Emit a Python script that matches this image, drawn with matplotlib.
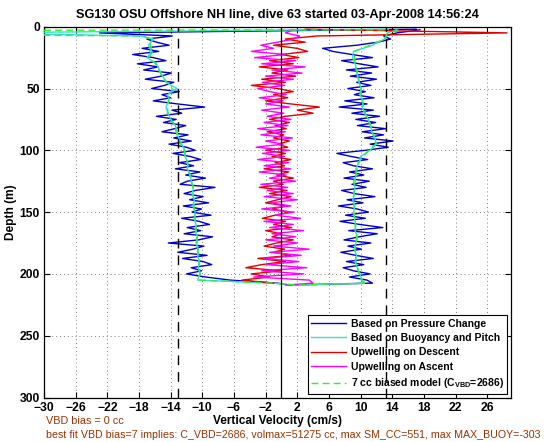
import matplotlib
matplotlib.use('Agg')
import matplotlib.pyplot as plt

# ---------------- data ----------------
# descent sampling depths (m)
desc_depth = [2, 5, 7.5, 10, 12.5, 15, 17.5, 20, 22.5, 25, 27.5, 30,
              32.5, 35, 37.5, 40, 42.5, 45, 47.5, 50, 52.5, 55, 57.5, 60,
              62.5, 65, 67.5, 70, 72.5, 75, 77.5, 80, 82.5, 85, 87.5, 90,
              92.5, 95, 97.5, 100, 102.5, 105, 107.5, 110, 112.5, 115, 117.5, 120,
              122.5, 125, 127.5, 130, 132.5, 135, 137.5, 140, 142.5, 145, 147.5, 150,
              152.5, 155, 157.5, 160, 162.5, 165, 167.5, 170, 172.5, 175, 177.5, 180,
              182.5, 185, 187.5, 190, 192.5, 195, 197.5, 200, 202.5, 205, 207.5]
# ascent sampling depths (m)
asc_depth = [209, 207.5, 205, 202.5, 200, 197.5, 195, 192.5, 190, 187.5, 185, 182.5,
             180, 177.5, 175, 172.5, 170, 167.5, 165, 162.5, 160, 157.5, 155, 152.5,
             150, 147.5, 145, 142.5, 140, 137.5, 135, 132.5, 130, 127.5, 125, 122.5,
             120, 117.5, 115, 112.5, 110, 107.5, 105, 102.5, 100, 97.5, 95, 92.5,
             90, 87.5, 85, 82.5, 80, 77.5, 75, 72.5, 70, 67.5, 65, 62.5,
             60, 57.5, 55, 52.5, 50, 47.5, 45, 42.5, 40, 37.5, 35, 32.5,
             30, 27.5, 25, 22.5, 20, 17.5, 15, 12.5, 10, 7.5, 5, 2.5]

# Based on Pressure Change (cm/s)
pressure_desc = [17, -23, -13.8, -17.0, -15.8, -14.2, -17.6, -15.5, -18.8, -16.2, -14.6, -18.2,
                 -15.6, -17.4, -13.9, -15.2, -17.2, -13.6, -14.8, -16.4, -12.9, -15.1, -14.0, -16.2,
                 -13.1, -9.7, -13.8, -12.6, -15.8, -13.3, -14.9, -12.1, -13.5, -15.1, -11.8, -13.6,
                 -11.4, -14.2, -12.0, -10.9, -13.7, -11.5, -10.2, -12.9, -11.1, -13.4, -10.3, -12.1,
                 -9.6, -11.9, -12.8, -8.4, -10.9, -12.3, -9.9, -11.6, -9.2, -12.4, -10.1, -11.3,
                 -8.9, -12.6, -10.4, -9.1, -11.9, -10.2, -12.3, -8.7, -10.5, -14.3, -9.8, -11.2,
                 -13.1, -9.4, -12.5, -9.9, -8.8, -11.4, -10.1, -12.0, -9.6, -6.5, -0.5]
pressure_asc = [1, 11.5, 10.8, 8.6, 11.2, 9.1, 7.8, 10.4, 8.2, 11.6, 9.4, 7.5,
                10.1, 8.4, 11.3, 7.9, 9.8, 12.1, 8.5, 12.8, 9.9, 7.4, 10.6, 8.1,
                11.0, 9.6, 7.2, 10.3, 8.3, 11.8, 9.2, 7.6, 10.7, 8.9, 11.1, 7.9,
                10.4, 8.6, 11.5, 9.1, 7.8, 10.9, 8.8, 7.0, 10.6, 13.5, 11.2, 14.1,
                10.5, 12.9, 10.2, 13.2, 9.6, 11.9, 9.4, 12.4, 8.9, 11.6, 7.3, 10.8,
                8.0, 11.7, 9.2, 10.6, 8.4, 11.3, 9.5, 12.0, 8.7, 11.4, 8.2, 12.2,
                9.8, 7.6, 11.5, 8.9, 6.5, 5.2, 9.5, 12.2, 13.8, 12.9, 14.6, 17.5]

# Based on Buoyancy and Pitch (cm/s)
buoy_desc_depth = [2, 5, 7.5, 10, 15, 20, 25, 30, 35, 40, 45, 50, 55, 60, 65, 70, 75, 80,
                   85, 90, 95, 100, 105, 110, 115, 120, 125, 130, 135, 140, 145, 150,
                   155, 160, 165, 170, 175, 180, 185, 190, 195, 200, 205, 207.5]
buoy_desc = [13.5, -40, -17.8, -16.2, -16.8, -16.4, -17.0, -15.8, -15.4, -15.0, -14.6, -13.2,
             -14.4, -14.2, -14.6, -14.3, -14.0, -13.4, -13.2, -13.0, -12.6, -12.2, -12.2, -11.8,
             -11.9, -11.5, -11.4, -11.1, -11.3, -11.0, -11.2, -10.9, -11.0, -10.8, -10.9, -10.6,
             -10.8, -10.5, -10.6, -10.4, -10.5, -10.3, -10.6, -1.0]
buoy_asc_depth = [209, 207.5, 205, 200, 195, 190, 185, 180, 175, 170, 165, 160, 155, 150,
                  145, 140, 135, 130, 125, 120, 115, 110, 105, 100, 95, 90, 85, 80, 75,
                  70, 65, 60, 55, 50, 45, 40, 35, 30, 25, 20, 15, 10, 7.5, 5, 2.5]
buoy_asc = [1.5, 10.5, 10.2, 9.9, 9.6, 9.3, 9.5, 9.2, 9.4, 9.6, 9.3, 9.4, 9.2, 9.1,
            9.3, 9.0, 9.2, 9.3, 9.1, 9.5, 9.4, 9.8, 10.0, 11.2, 12.0, 11.8, 11.4, 11.3, 11.0,
            10.5, 10.2, 10.3, 9.9, 10.1, 9.8, 9.6, 9.5, 9.3, 9.0, 9.1, 11.5, 13.0, 13.3, 13.4, 14.5]

# Upwelling on Descent (cm/s), on desc_depth
upw_desc = [3, 28.5, 4.5,
            0.5, 3, -1, 2, 3.3, 0, 2.2, -1.5, 1.5, -2.8,
            0.8, -1.2, 1.8, -2.5, 0.5, -3.8, -0.5, 1.5, -1, 0.8,
            -2, 1.2, 4.8, 2, 4, 0.5, -1.5, 1, -0.8, 0.6,
            -1.8, 0.3, -1, 1, -0.5, 0.8, -2, 0.5, -1.2, 1.2,
            -0.8, 0.4, -2.2, 0.9, -0.6, 1.5, -1, 0.2, -2.8, 0.7,
            -1.5, 1.2, -0.5, -2, 0.6, -1.2, 1, -0.8, -2.4, 0.5,
            -1, 1.3, -2, 0, -1.2, 1.5, -0.6, -2.2, 0.4, -1,
            1.2, -3, 0.5, -2.5, -4.5, 0, -3.8, -1.5, -5,
            -1]
# Upwelling on Ascent (cm/s), on asc_depth
upw_asc = [0.5, 4,
           3.5, -3.5, 2.8, -2.5, 3.2, -1.8, 2.2, -2.2, 2.5, -1.5,
           3.5, -1, 2, -2, 1.8, -1.2, 2.8, -1.5, 1.5, -2.2,
           2.4, -0.8, 1.6, -2.5, 1.2, -1.4, 2, -2.2, 1.5, -1.8,
           0.8, -2.6, 1.8, -1.5, 0.6, -2.8, 1.2, -2.2, 0.9, -3,
           0.4, -2.4, 1, -3.2, 0.2, -2, 1.4, -2.6, 0.5, -3,
           0.8, -2.2, 1.2, -1.8, 0.3, -2.5, 1, -2, 0.2, -2.8,
           0.6, -1.5, -3, 0.4, -2.4, 1.5, -2, 2.6, -1.2, 3,
           -2.5, 1.8, -3.4, 0.5, -3.8, -1, -2.6, -0.5, 1.5, 2.3,
           0.5, 1.5]

# 7 cc biased model (cm/s)
model_desc_depth = [2.5, 3, 6.5, 7.5, 10, 15, 20, 25, 30, 40, 50, 60, 70, 80, 90, 100,
                    110, 120, 130, 140, 150, 160, 170, 180, 190, 200, 205, 207.5]
model_desc = [13, -40, -40, -17.5, -16.5, -16.6, -16.2, -16.8, -15.9, -15.1, -13.8, -14.3,
              -14.4, -13.5, -13.1, -12.3, -11.9, -11.6, -11.2, -11.1, -11.0, -10.8, -10.7,
              -10.6, -10.4, -10.3, -10.5, -1]
model_asc_depth = [209, 207.5, 205, 200, 190, 180, 170, 160, 150, 140, 130, 120, 110, 100,
                   95, 90, 80, 70, 60, 50, 40, 30, 20, 15, 10, 5, 2.5]
model_asc = [2, 10.6, 10.1, 9.8, 9.4, 9.3, 9.5, 9.3, 9.2, 9.1, 9.2, 9.4, 9.7, 11.0,
             11.9, 11.7, 11.2, 10.6, 10.2, 10.0, 9.7, 9.3, 9.2, 11.2, 13.0, 13.4, 14.8]

# reference lines
zero_line = 0
bias_lines = [-13.1, 13.2]

x_ticks = [-30, -26, -22, -18, -14, -10, -6, -2, 2, 6, 10, 14, 18, 22, 26]
y_ticks = [0, 50, 100, 150, 200, 250, 300]

title = 'SG130 OSU Offshore NH line, dive 63 started 03-Apr-2008 14:56:24'
note1 = 'VBD bias = 0 cc'
note2 = ('best fit VBD bias=7 implies: C_VBD=2686, volmax=51275 cc, '
         'max SM_CC=551, max MAX_BUOY=-303')

# ---------------- plotting ----------------
plt.rcParams['font.family'] = ['Liberation Sans', 'DejaVu Sans']
plt.rcParams['mathtext.fontset'] = 'custom'
plt.rcParams['mathtext.rm'] = 'Liberation Sans:bold'
plt.rcParams['mathtext.bf'] = 'Liberation Sans:bold'
plt.rcParams['mathtext.it'] = 'Liberation Sans:bold'

fig = plt.figure(figsize=(5.54, 4.42), dpi=100)
ax = fig.add_axes([44 / 554, 1 - 397.5 / 442, 467 / 554, 370.8 / 442])

lw = 1.0
ax.plot(pressure_desc + pressure_asc, desc_depth + asc_depth, color='#0000cc', lw=lw,
        label='Based on Pressure Change', zorder=3)
ax.plot(buoy_desc + buoy_asc, buoy_desc_depth + buoy_asc_depth, color='#30e0d0', lw=lw,
        label='Based on Buoyancy and Pitch', zorder=4)
ax.plot(upw_desc, desc_depth, color='#e00000', lw=lw, label='Upwelling on Descent', zorder=5)
ax.plot(upw_asc, asc_depth, color='#ff00ff', lw=lw, label='Upwelling on Ascent', zorder=6)
ax.plot(model_desc + model_asc, model_desc_depth + model_asc_depth, color='#33ee33', lw=lw,
        ls=(0, (5, 3)), label=r'7 cc biased model (C$_{\mathrm{VBD}}$=2686)', zorder=7)

ax.axvline(zero_line, color='k', lw=0.9, zorder=8)
for b in bias_lines:
    ax.axvline(b, color='k', lw=1.0, ls=(0, (7, 5)), zorder=8)

ax.set_xlim(-30, 29)
ax.set_ylim(300, 0)
ax.set_xticks(x_ticks)
ax.set_yticks(y_ticks)
ax.grid(True, ls=(0, (1, 3)), color='0.5', lw=0.7)
ax.set_axisbelow(True)
ax.tick_params(direction='in', top=True, right=True, length=4, width=0.8,
               labelsize=8.7, pad=3)
for lab in ax.get_xticklabels() + ax.get_yticklabels():
    lab.set_fontweight('bold')
for s in ax.spines.values():
    s.set_linewidth(0.9)

ax.set_title(title, fontsize=9.2, fontweight='bold', pad=6)
ax.set_xlabel('Vertical Velocity (cm/s)', fontsize=8.6, fontweight='bold', labelpad=1)
ax.set_ylabel('Depth (m)', fontsize=8.6, fontweight='bold', labelpad=2)

leg = ax.legend(loc='lower right', prop={'weight': 'bold', 'size': 7.5}, frameon=True,
                fancybox=False, framealpha=1, edgecolor='k', borderaxespad=0.35,
                handlelength=3.3, labelspacing=0.42, borderpad=0.35, handletextpad=0.5)
leg.get_frame().set_linewidth(0.8)

brown = '#993300'
fig.text(46 / 554, 1 - 421 / 442, note1, color=brown, fontsize=7.8, va='center', ha='left')
fig.text(46 / 554, 1 - 435 / 442, note2, color=brown, fontsize=7.7, va='center', ha='left')

fig.savefig('out.png', dpi=100)
